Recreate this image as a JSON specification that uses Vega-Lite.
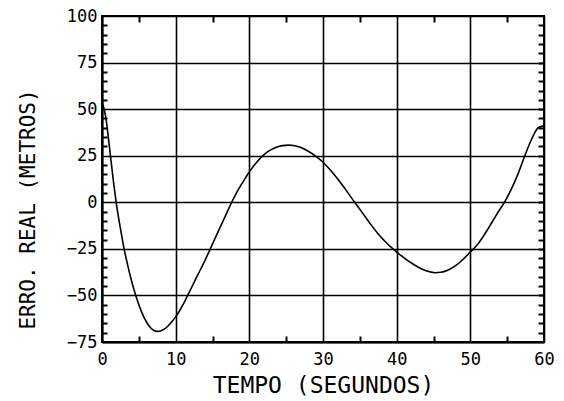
{
  "$schema": "https://vega.github.io/schema/vega-lite/v6.json",
  "width": 442,
  "height": 326,
  "autosize": {"type": "none"},
  "padding": {"left": 102, "top": 16, "right": 20, "bottom": 59},
  "background": "white",
  "config": {
    "view": {"stroke": "black", "strokeWidth": 2},
    "axis": {"labelFont": "DejaVu Sans Mono", "titleFont": "DejaVu Sans Mono", "labelColor": "black", "titleColor": "black", "titleFontWeight": "normal"}
  },
  "data": {"values": [
    {"t": 0, "v": 54}, {"t": 0.5, "v": 46}, {"t": 1.0, "v": 30}, {"t": 1.5, "v": 13}, {"t": 2.0, "v": -2},
    {"t": 2.5, "v": -14}, {"t": 3.0, "v": -25}, {"t": 3.5, "v": -34}, {"t": 4.0, "v": -42}, {"t": 4.5, "v": -49},
    {"t": 5.0, "v": -55}, {"t": 5.5, "v": -60}, {"t": 6.0, "v": -64}, {"t": 6.5, "v": -67}, {"t": 7.0, "v": -68.7},
    {"t": 7.5, "v": -69.3}, {"t": 8.0, "v": -69}, {"t": 8.5, "v": -68}, {"t": 9.0, "v": -66.3}, {"t": 9.5, "v": -64},
    {"t": 10.0, "v": -61.5}, {"t": 10.5, "v": -58.5}, {"t": 11.0, "v": -55}, {"t": 11.5, "v": -51}, {"t": 12.0, "v": -47},
    {"t": 12.5, "v": -43}, {"t": 13.0, "v": -39}, {"t": 14.0, "v": -31}, {"t": 14.65, "v": -25.5}, {"t": 15.5, "v": -18},
    {"t": 16.5, "v": -9.5}, {"t": 17.6, "v": 0}, {"t": 18.5, "v": 6.8}, {"t": 19.4, "v": 12.6}, {"t": 20.0, "v": 16.3},
    {"t": 21.0, "v": 21.5}, {"t": 21.7, "v": 24.5}, {"t": 22.5, "v": 27.2}, {"t": 23.5, "v": 29.3}, {"t": 24.5, "v": 30.4},
    {"t": 25.3, "v": 30.7}, {"t": 26.0, "v": 30.5}, {"t": 27.0, "v": 29.4}, {"t": 28.0, "v": 27.4}, {"t": 29.1, "v": 24.5},
    {"t": 30.0, "v": 21.5}, {"t": 31.0, "v": 17.3}, {"t": 32.0, "v": 12.5}, {"t": 33.0, "v": 7.2}, {"t": 34.3, "v": 0},
    {"t": 35.5, "v": -6.5}, {"t": 36.5, "v": -12}, {"t": 37.5, "v": -17}, {"t": 38.5, "v": -21.3}, {"t": 39.5, "v": -25},
    {"t": 40.0, "v": -26.7}, {"t": 41.0, "v": -29.8}, {"t": 42.0, "v": -32.6}, {"t": 43.0, "v": -35}, {"t": 44.0, "v": -36.8},
    {"t": 45.2, "v": -37.8}, {"t": 46.0, "v": -37.6}, {"t": 47.0, "v": -36.3}, {"t": 48.0, "v": -34}, {"t": 49.0, "v": -30.7},
    {"t": 50.0, "v": -26.7}, {"t": 50.8, "v": -23.5}, {"t": 51.5, "v": -19.8}, {"t": 52.5, "v": -13.6}, {"t": 53.5, "v": -7}, {"t": 54.7, "v": 0.5},
    {"t": 55.5, "v": 6.5}, {"t": 56.5, "v": 15.5}, {"t": 57.4, "v": 25}, {"t": 58.0, "v": 31}, {"t": 58.6, "v": 36.2},
    {"t": 59.2, "v": 40}, {"t": 60.0, "v": 41}
  ]},
  "layer": [
    {
      "mark": {"type": "line", "opacity": 0},
      "encoding": {
        "x": {"field": "t", "type": "quantitative", "scale": {"domain": [0, 60], "nice": false, "zero": false},
          "axis": {"orient": "bottom", "values": [5, 15, 25, 35, 45, 55], "tickSize": -6, "tickWidth": 2, "tickColor": "black", "labels": false, "domain": false, "grid": false, "title": null}},
        "y": {"field": "v", "type": "quantitative", "scale": {"domain": [-75, 100], "nice": false, "zero": false},
          "axis": {"orient": "left", "values": [-70, -65, -60, -55, -45, -40, -35, -30, -20, -15, -10, -5, 5, 10, 15, 20, 30, 35, 40, 45, 55, 60, 65, 70, 80, 85, 90, 95], "tickSize": -5, "tickWidth": 2, "tickColor": "black", "labels": false, "domain": false, "grid": false, "title": null}}
      }
    },
    {
      "mark": {"type": "line", "opacity": 0},
      "encoding": {
        "x": {"field": "t", "type": "quantitative",
          "axis": {"orient": "top", "values": [5, 15, 25, 35, 45, 55], "tickSize": -6, "tickWidth": 2, "tickColor": "black", "labels": false, "domain": false, "grid": false, "title": null}},
        "y": {"field": "v", "type": "quantitative",
          "axis": {"orient": "right", "values": [-70, -65, -60, -55, -50, -45, -40, -35, -30, -25, -20, -15, -10, -5, 0, 5, 10, 15, 20, 25, 30, 35, 40, 45, 50, 55, 60, 65, 70, 75, 80, 85, 90, 95], "tickSize": -6, "tickWidth": 2, "tickColor": "black", "labels": false, "domain": false, "grid": false, "title": null}}
      }
    },
    {
      "mark": {"type": "line", "color": "black", "strokeWidth": 1.6, "interpolate": "monotone"},
      "encoding": {
        "x": {"field": "t", "type": "quantitative",
          "axis": {"orient": "bottom", "values": [0, 10, 20, 30, 40, 50, 60], "grid": true, "gridColor": "black", "gridWidth": 1.6, "gridOpacity": 1, "ticks": false, "domain": true, "domainColor": "black", "domainWidth": 2, "labelFontSize": 17, "labelPadding": 9, "labelFlush": false, "labelOverlap": false, "title": "TEMPO (SEGUNDOS)", "titleFontSize": 23, "titleBaseline": "alphabetic", "titleY": 50}},
        "y": {"field": "v", "type": "quantitative",
          "axis": {"orient": "left", "values": [-75, -50, -25, 0, 25, 50, 75, 100], "grid": true, "gridColor": "black", "gridWidth": 1.6, "gridOpacity": 1, "ticks": false, "domain": true, "domainColor": "black", "domainWidth": 2, "labelFontSize": 17, "labelPadding": 5, "labelFlush": false, "labelOverlap": false, "title": "ERRO. REAL (METROS)", "titleFontSize": 21, "titleAngle": 270, "titleBaseline": "middle", "titleX": -74, "titleY": 193}}
      }
    }
  ],
  "resolve": {"axis": {"x": "independent", "y": "independent"}}
}
